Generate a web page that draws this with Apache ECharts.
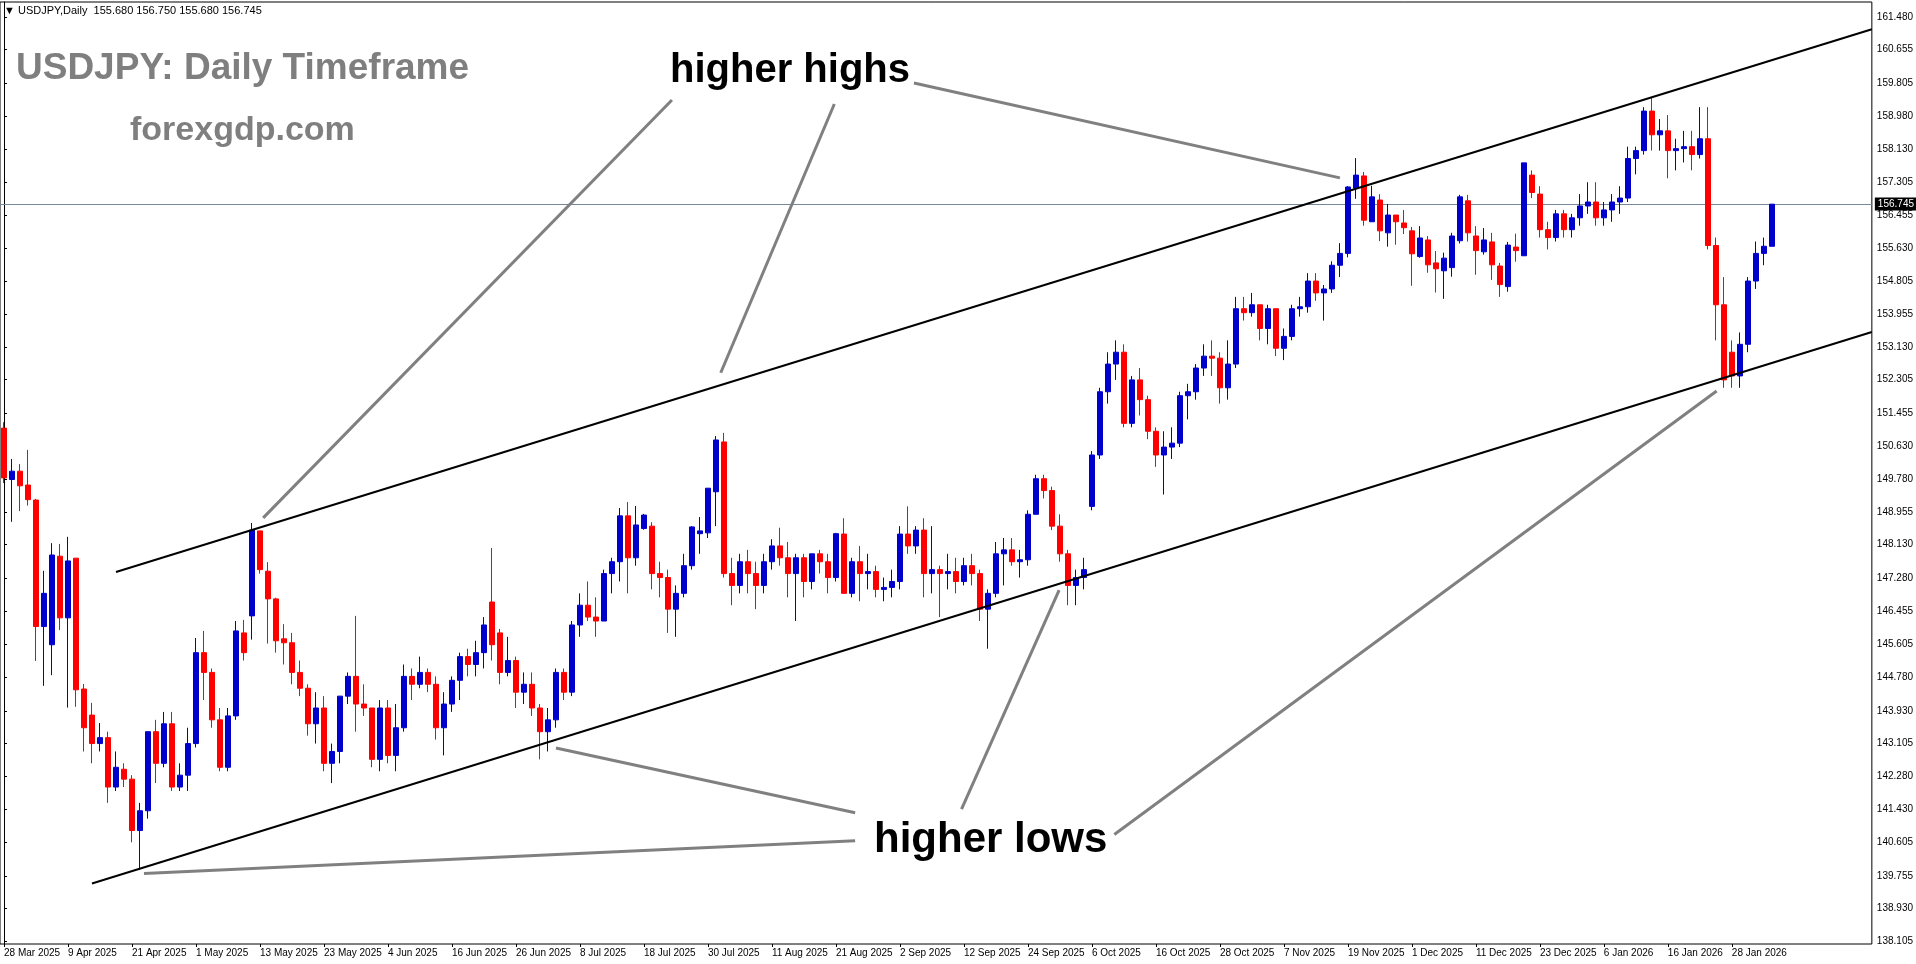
<!DOCTYPE html>
<html><head><meta charset="utf-8">
<script src="https://cdn.jsdelivr.net/npm/echarts@6/dist/echarts.min.js"></script>
<style>html,body{margin:0;padding:0;background:#fff}#c{width:1916px;height:964px}</style>
</head><body><div id="c"></div>
<script>
// ---- data ----
const startDate = '2025-03-28';
const skipDays = ['2025-12-25', '2026-01-01'];
// [open, high, low, close]
const ohlc = [
[151.08,151.23,149.69,149.82],[149.78,150.30,148.71,149.99],[149.99,150.17,148.98,149.62],[149.64,150.53,149.12,149.27],
[149.26,149.29,145.19,146.06],[146.06,147.47,144.56,146.90],[145.60,148.17,144.83,147.87],[147.84,148.15,145.97,146.28],
[146.28,148.33,144.01,147.72],[147.79,147.79,144.03,144.46],[144.48,144.61,142.90,143.50],[143.82,144.13,142.60,143.10],
[143.10,143.62,142.90,143.25],[143.25,143.40,141.60,142.00],[142.00,142.90,141.90,142.50],[142.45,142.60,142.00,142.20],
[142.20,142.30,140.60,140.90],[140.90,141.60,139.90,141.40],[141.40,143.40,141.20,143.40],[143.40,143.70,142.10,142.60],
[142.60,143.90,142.50,143.60],[143.60,143.90,141.90,142.00],[142.00,142.60,141.90,142.30],[142.30,143.50,141.90,143.10],
[143.10,145.77,143.00,145.40],[145.40,145.95,144.20,144.90],[144.90,145.00,143.50,143.70],[143.70,144.00,142.40,142.50],
[142.50,144.00,142.40,143.80],[143.80,146.20,143.70,145.95],[145.90,146.23,145.20,145.40],[146.33,148.68,145.73,148.50],
[148.48,148.48,147.40,147.50],[147.46,147.69,145.63,146.76],[146.76,146.79,145.40,145.70],[145.75,146.12,145.10,145.65],
[145.65,145.90,144.60,144.90],[144.90,145.20,144.30,144.50],[144.50,144.60,143.30,143.60],[143.60,144.40,143.10,144.00],
[144.00,144.30,142.40,142.60],[142.60,143.10,142.10,142.90],[142.90,144.30,142.60,144.30],[144.30,144.90,144.10,144.80],
[144.80,146.33,143.40,144.10],[144.10,144.60,143.80,144.00],[144.00,144.00,142.50,142.70],[142.70,144.20,142.40,144.00],
[144.00,144.20,142.60,142.80],[142.80,144.10,142.40,143.50],[143.50,145.10,143.40,144.80],[144.80,145.00,144.20,144.60],
[144.60,145.30,144.50,144.90],[144.90,145.00,144.40,144.60],[144.60,144.80,143.20,143.50],[143.50,144.40,142.80,144.10],
[144.10,144.80,143.90,144.70],[144.70,145.40,144.20,145.30],[145.30,145.50,144.80,145.10],[145.10,145.70,144.80,145.40],
[145.40,146.30,145.00,146.10],[146.68,148.05,145.20,145.60],[145.90,146.00,144.60,144.90],[144.90,145.80,144.80,145.20],
[145.20,145.30,144.00,144.40],[144.40,144.90,144.10,144.60],[144.60,144.90,143.80,144.00],[144.00,144.10,142.70,143.40],
[143.40,144.00,142.90,143.70],[143.70,145.00,143.50,144.90],[144.90,145.00,144.20,144.40],[144.40,146.20,144.30,146.10],
[146.10,146.90,145.80,146.60],[146.60,147.20,146.20,146.30],[146.30,146.80,145.80,146.20],[146.20,147.50,146.20,147.40],
[147.40,147.80,146.90,147.70],[147.70,149.06,147.20,148.86],[148.86,149.21,146.90,147.80],[147.80,149.11,147.60,148.63],
[148.54,148.91,148.51,148.88],[148.60,148.70,147.00,147.40],[147.40,147.70,146.80,147.30],[147.30,147.50,145.90,146.50],
[146.50,147.10,145.80,146.90],[146.90,147.90,146.80,147.60],[147.60,148.60,147.50,148.58],[148.41,148.83,147.90,148.48],
[148.43,149.56,148.30,149.56],[149.47,150.88,148.60,150.78],[150.73,150.96,147.30,147.40],[147.40,147.80,146.60,147.10],
[147.10,147.90,146.90,147.70],[147.70,148.00,146.90,147.40],[147.40,147.70,146.50,147.10],[147.10,147.90,146.90,147.70],
[147.70,148.27,147.50,148.10],[148.10,148.56,147.60,147.80],[147.80,148.20,146.80,147.40],[147.40,147.90,146.20,147.80],
[147.80,147.90,146.80,147.20],[147.20,147.90,147.00,147.90],[147.90,148.00,147.40,147.70],[147.70,147.90,146.90,147.30],
[147.30,148.43,147.20,148.41],[148.40,148.80,146.90,146.90],[146.90,147.80,146.80,147.70],[147.70,148.10,146.70,147.40],
[147.40,147.90,147.00,147.45],[147.45,147.60,146.80,147.00],[147.00,147.30,146.70,147.05],[147.05,147.50,146.80,147.20],
[147.20,148.60,147.00,148.40],[148.40,149.10,147.90,148.10],[148.10,148.60,147.90,148.50],[148.50,148.80,146.80,147.40],
[147.40,148.60,146.90,147.50],[147.50,147.60,146.30,147.40],[147.40,147.90,147.00,147.45],[147.45,147.80,146.90,147.20],
[147.20,147.80,147.10,147.60],[147.60,147.90,147.10,147.40],[147.40,147.50,146.20,146.50],[146.50,147.00,145.50,146.90],
[146.90,148.20,146.80,147.90],[147.90,148.30,147.10,148.00],[148.00,148.30,147.60,147.70],[147.70,148.00,147.30,147.75],
[147.75,149.00,147.60,148.90],[148.90,149.90,148.90,149.80],[149.80,149.90,149.30,149.50],[149.50,149.60,148.50,148.60],
[148.60,148.90,147.70,147.90],[147.90,148.00,146.60,147.10],[147.10,147.50,146.60,147.30],[147.30,147.80,147.00,147.50],
[149.10,150.50,149.00,150.40],[150.40,152.10,150.30,152.00],[152.00,153.00,151.70,152.70],[152.70,153.30,152.30,153.00],
[153.00,153.20,151.10,151.20],[151.20,152.40,151.10,152.30],[152.30,152.60,151.40,151.80],[151.80,151.90,150.80,151.00],
[151.00,151.10,150.10,150.40],[150.40,151.00,149.40,150.60],[150.60,151.10,150.30,150.70],[150.70,152.00,150.60,151.90],
[151.90,152.20,151.30,152.00],[152.00,152.70,151.80,152.60],[152.60,153.20,152.40,152.90],[152.90,153.30,152.40,152.85],
[152.85,153.00,151.70,152.10],[152.10,153.30,151.80,152.70],[152.70,154.40,152.60,154.10],[154.10,154.40,153.80,154.00],
[154.00,154.50,153.90,154.20],[154.20,154.20,153.30,153.60],[153.60,154.20,153.20,154.10],[154.10,154.10,152.90,153.10],
[153.10,153.60,152.80,153.40],[153.40,154.20,153.30,154.10],[154.10,154.40,153.90,154.15],[154.15,155.00,154.00,154.80],
[154.80,155.00,154.30,154.50],[154.50,154.70,153.80,154.60],[154.60,155.30,154.50,155.20],[155.20,155.76,154.90,155.50],
[155.50,157.20,155.40,157.18],[157.15,157.91,156.88,157.48],[157.46,157.56,156.20,156.34],[156.30,157.21,156.30,156.93],
[156.85,157.00,155.81,156.07],[156.02,156.75,155.67,156.47],[156.47,156.47,155.72,156.30],[156.27,156.60,155.99,156.15],
[156.07,156.17,154.68,155.49],[155.42,156.19,155.39,155.89],[155.84,155.94,155.01,155.21],[155.26,155.56,154.51,155.11],
[155.06,155.52,154.35,155.38],[155.14,156.02,154.91,155.94],[155.82,156.98,155.75,156.93],[156.83,156.98,155.80,156.02],
[155.94,156.19,154.96,155.57],[155.54,156.14,155.47,155.84],[155.79,156.02,154.83,155.21],[155.18,155.26,154.40,154.71],
[154.66,155.79,154.53,155.71],[155.66,156.00,155.29,155.57],[155.44,157.79,155.44,157.79],[157.48,157.60,156.90,157.04],
[157.00,157.20,155.90,156.10],[156.10,156.30,155.60,155.90],[155.90,156.60,155.80,156.50],[156.50,156.60,155.90,156.10],
[156.10,156.50,155.90,156.40],[156.40,157.00,156.20,156.70],[156.70,157.30,156.50,156.80],[156.80,157.30,156.20,156.40],
[156.40,156.80,156.20,156.60],[156.60,157.00,156.30,156.80],[156.80,157.20,156.50,156.90],[156.90,158.20,156.80,157.90],
[157.90,158.20,157.50,158.10],[158.10,159.20,158.00,159.10],[159.10,159.45,158.10,158.50],[158.50,158.90,158.10,158.60],
[158.60,159.00,157.40,158.10],[158.10,158.40,157.60,158.15],[158.15,158.60,157.80,158.20],[158.20,158.60,157.60,158.00],
[158.00,159.20,157.90,158.40],[158.40,159.20,155.60,155.70],[155.70,155.90,153.30,154.20],[154.20,154.90,152.10,152.30],
[153.00,153.30,152.10,152.40],[152.40,153.50,152.10,153.20],[153.20,154.90,153.00,154.80],[154.80,155.80,154.60,155.50],
[155.50,155.90,155.20,155.68],[155.68,156.75,155.68,156.745]
];
const yTickLabels = [161.480,160.655,159.805,158.980,158.130,157.305,156.455,155.630,154.805,153.955,153.130,152.305,151.455,150.630,149.780,148.955,148.130,147.280,146.455,145.605,144.780,143.930,143.105,142.280,141.430,140.605,139.755,138.930,138.105];
const lastPrice = 156.745;
const headerText = '\u25BC USDJPY,Daily  155.680 156.750 155.680 156.745';
// annotation lines in [bar index, price]
const upperChannel = [[14.0,147.44],[233.5,161.17]];
const lowerChannel = [[11.0,139.56],[233.5,153.51]];
const arrowLines = [
  [[32.4,148.81],[83.5,159.38]],
  [[89.6,152.48],[103.8,159.28]],
  [[113.75,159.81],[167.0,157.41]],
  [[106.4,140.64],[17.5,139.81]],
  [[106.4,141.35],[69.0,142.99]],
  [[119.7,141.44],[131.9,146.98]],
  [[138.8,140.80],[214.1,152.02]]
];
const slotCount = 234;

// ---- build categories ----
const MONTHS = ['Jan','Feb','Mar','Apr','May','Jun','Jul','Aug','Sep','Oct','Nov','Dec'];
const cats = [];
{
  let d = new Date(startDate + 'T12:00:00Z');
  while (cats.length < ohlc.length) {
    const wd = d.getUTCDay();
    const iso = d.toISOString().slice(0,10);
    if (wd !== 0 && wd !== 6 && skipDays.indexOf(iso) < 0) {
      cats.push(d.getUTCDate() + ' ' + MONTHS[d.getUTCMonth()] + ' ' + d.getUTCFullYear());
    }
    d = new Date(d.getTime() + 86400000);
  }
}
while (cats.length < slotCount) cats.push('');

const candleData = ohlc.map(r => [r[0], r[3], r[2], r[1]]);

// ---- layout ----
const W = 1916, H = 964;
const gridTop = 2, gridBottomPx = 944;
const pxPerYen = 39.53, refY = 17, refP = 161.48;
const yMax = refP + (refY - gridTop) / pxPerYen;
const yMin = refP - (gridBottomPx - refY) / pxPerYen;

const labelInterval = (i, v) => i % 8 === 0 && i < ohlc.length;

const chart = echarts.init(document.getElementById('c'), null, {renderer: 'canvas', width: W, height: H});

const lineSeries = [];
[upperChannel, lowerChannel].forEach(l => lineSeries.push({
  type: 'line', xAxisIndex: 1, data: l, showSymbol: false, silent: true, z: 4,
  lineStyle: {color: '#000', width: 2}
}));
arrowLines.forEach(l => lineSeries.push({
  type: 'line', xAxisIndex: 1, data: l, showSymbol: false, silent: true, z: 4,
  lineStyle: {color: '#808080', width: 3}
}));

chart.setOption({
  animation: false,
  backgroundColor: '#fff',
  grid: {left: 0, right: 44, top: gridTop, bottom: H - gridBottomPx, show: true, borderColor: '#000', borderWidth: 1, backgroundColor: '#fff'},
  xAxis: [{
    type: 'category', data: cats, boundaryGap: true,
    axisLine: {show: false},
    axisTick: {show: true, interval: labelInterval, alignWithLabel: true, length: 3, lineStyle: {color: '#000'}},
    axisLabel: {interval: labelInterval, align: 'left', margin: 4, color: '#000', fontSize: 10, fontFamily: 'Liberation Sans'},
    splitLine: {show: false}
  }, {
    type: 'value', min: -0.5, max: slotCount - 0.5, show: false
  }],
  yAxis: {
    type: 'value', position: 'right', min: yMin, max: yMax, scale: true,
    axisLine: {show: true, lineStyle: {color: '#000'}},
    axisTick: {show: true, customValues: yTickLabels, length: 3, lineStyle: {color: '#000'}},
    axisLabel: {customValues: yTickLabels, formatter: v => v.toFixed(3), margin: 5, color: '#000', fontSize: 10, fontFamily: 'Liberation Sans'},
    splitLine: {show: false}
  },
  series: [{
    type: 'candlestick', data: candleData, barWidth: 5, z: 3,
    itemStyle: {color: '#0000CD', color0: '#FF0000', borderColor: '#0000CD', borderColor0: '#FF0000', borderWidth: 1},
    markLine: {
      silent: true, symbol: 'none', z: 2,
      lineStyle: {color: '#778899', width: 1, type: 'solid'},
      label: {show: true, position: 'end', formatter: lastPrice.toFixed(3), backgroundColor: '#000', color: '#fff', padding: [2, 3, 1, 3], fontSize: 10, fontFamily: 'Liberation Sans', distance: 3},
      data: [{yAxis: lastPrice}]
    }
  }].concat(lineSeries),
  graphic: [
    {type: 'text', left: 4, top: 5, z: 10, style: {text: headerText, font: '11px "Liberation Sans"', fill: '#000'}},
    {type: 'text', left: 16, top: 50, z: 10, style: {text: 'USDJPY: Daily Timeframe', font: 'bold 37px "Liberation Sans"', fill: '#7f7f7f'}},
    {type: 'text', left: 130, top: 114, z: 10, style: {text: 'forexgdp.com', font: 'bold 34px "Liberation Sans"', fill: '#7f7f7f'}},
    {type: 'text', left: 670, top: 51, z: 10, style: {text: 'higher highs', font: 'bold 40px "Liberation Sans"', fill: '#000'}},
    {type: 'text', left: 874, top: 819, z: 10, style: {text: 'higher lows', font: 'bold 42px "Liberation Sans"', fill: '#000'}}
  ]
});
</script>
</body></html>
